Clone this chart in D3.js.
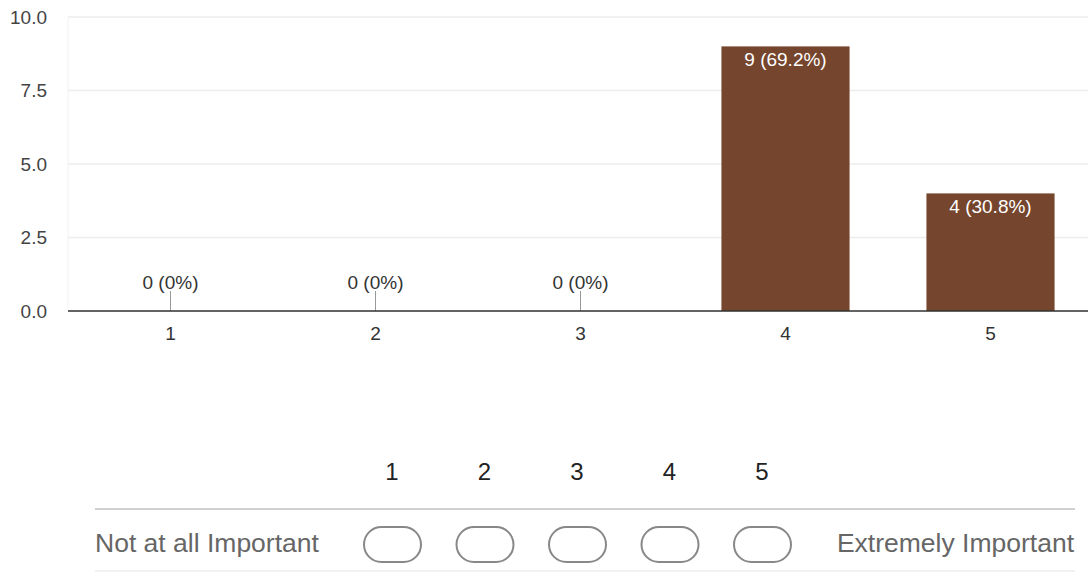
<!DOCTYPE html>
<html><head><meta charset="utf-8">
<script src="https://cdn.jsdelivr.net/npm/d3@7"></script>
<style>html,body{margin:0;padding:0;background:#fff;}svg{display:block;font-family:"Liberation Sans",Arial,sans-serif;}</style>
</head><body><svg id="c" width="1088" height="573"></svg>
<script>
const categories = ["1","2","3","4","5"];
const counts = [0,0,0,9,4];
const percents = ["0%","0%","0%","69.2%","30.8%"];
const yTicks = [0,2.5,5,7.5,10];
const scaleNumbers = ["1","2","3","4","5"];
const lowLabel = "Not at all Important";
const highLabel = "Extremely Important";

const svg = d3.select("#c");
const x = d3.scaleBand().domain(categories).range([68,1093]).paddingInner(0.375).paddingOuter(0.1875);
const y = d3.scaleLinear().domain([0,10]).range([311,17]);

// grid
svg.append("g").selectAll("line").data(yTicks).join("line")
  .attr("x1",68).attr("x2",1088).attr("y1",d=>y(d)).attr("y2",d=>y(d))
  .attr("stroke","#ececec").attr("stroke-width",1.5);
svg.append("line").attr("x1",68).attr("x2",68).attr("y1",17).attr("y2",311).attr("stroke","#f2f2f2");

// y labels
svg.append("g").selectAll("text").data(yTicks).join("text")
  .attr("x",47).attr("y",d=>y(d)+6.5).attr("text-anchor","end")
  .attr("font-size",19).attr("fill","#444").text(d=>d.toFixed(1));

const data = categories.map((c,i)=>({c, v:counts[i], p:percents[i]}));

// bars
svg.append("g").selectAll("rect").data(data.filter(d=>d.v>0)).join("rect")
  .attr("x",d=>x(d.c)).attr("width",x.bandwidth())
  .attr("y",d=>y(d.v)).attr("height",d=>y(0)-y(d.v)).attr("fill","#75452d");

// zero ticks
svg.append("g").selectAll("line").data(data.filter(d=>d.v===0)).join("line")
  .attr("x1",d=>x(d.c)+x.bandwidth()/2).attr("x2",d=>x(d.c)+x.bandwidth()/2)
  .attr("y1",291).attr("y2",311).attr("stroke","#999").attr("stroke-width",1);

// value labels
svg.append("g").selectAll("text").data(data).join("text")
  .attr("x",d=>x(d.c)+x.bandwidth()/2)
  .attr("y",d=>d.v>0? y(d.v)+20 : 289)
  .attr("text-anchor","middle").attr("font-size",19)
  .attr("fill",d=>d.v>0?"#fff":"#333")
  .text(d=>`${d.v} (${d.p})`);

// axis
svg.append("line").attr("x1",68).attr("x2",1088).attr("y1",311).attr("y2",311).attr("stroke","#333").attr("stroke-width",1.5);

// x labels
svg.append("g").selectAll("text").data(categories).join("text")
  .attr("x",d=>x(d)+x.bandwidth()/2).attr("y",340).attr("text-anchor","middle")
  .attr("font-size",19).attr("fill","#333").text(d=>d);

// bottom scale widget
const sx = d3.scalePoint().domain(scaleNumbers).range([392,762]);
svg.append("g").selectAll("text").data(scaleNumbers).join("text")
  .attr("x",d=>sx(d)).attr("y",480).attr("text-anchor","middle")
  .attr("font-size",24).attr("fill","#222").text(d=>d);
svg.append("line").attr("x1",95).attr("x2",1075).attr("y1",509).attr("y2",509).attr("stroke","#d0d0d0").attr("stroke-width",2);
svg.append("line").attr("x1",95).attr("x2",1075).attr("y1",571).attr("y2",571).attr("stroke","#f2f2f2").attr("stroke-width",2);
svg.append("text").attr("x",95).attr("y",552).attr("font-size",26.5).attr("fill","#666").text(lowLabel);
svg.append("text").attr("x",1074).attr("y",552).attr("text-anchor","end").attr("font-size",26.5).attr("fill","#666").text(highLabel);
svg.append("g").selectAll("rect").data(scaleNumbers).join("rect")
  .attr("x",d=>sx(d)-28).attr("y",527).attr("width",57).attr("height",35)
  .attr("rx",17.5).attr("ry",17.5).attr("fill","#fff").attr("stroke","#888").attr("stroke-width",2);
</script></body></html>
